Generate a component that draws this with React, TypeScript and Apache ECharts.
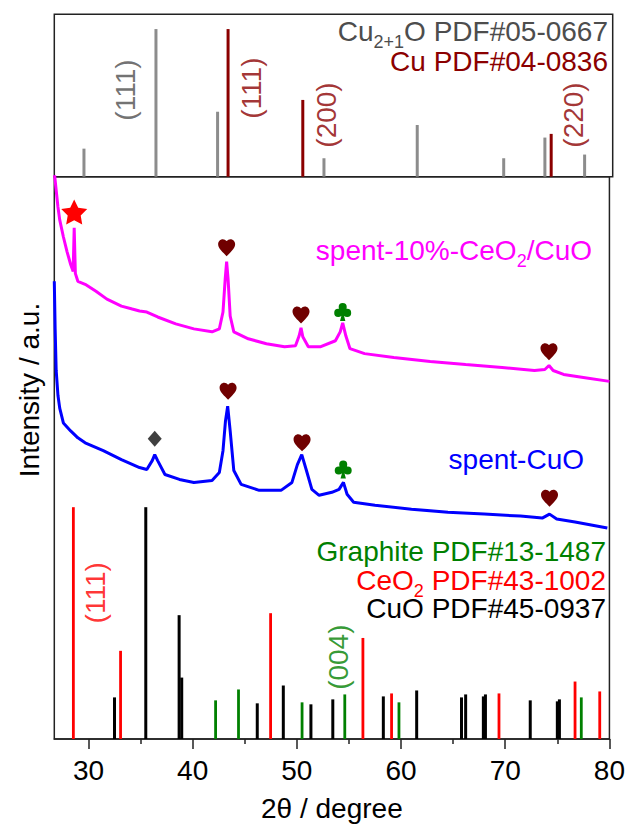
import React, { useEffect, useRef } from "react";
import * as echarts from "echarts";

// ---------- axis ----------
const X_MIN = 26.72;
const X_MAX = 80;
const MAJOR_TICKS = [30, 40, 50, 60, 70, 80];
const MINOR_TICKS = [35, 45, 55, 65, 75];

// ---------- top panel reference patterns ----------
const cu2oTheta = [29.55, 36.42, 42.3, 52.45, 61.35, 69.6, 73.53, 77.32];
const cu2oInt = [19, 100, 44, 12.5, 35, 12.5, 26.5, 15];
const cuTheta = [43.3, 50.43, 74.13];
const cuInt = [100, 52, 29];

// ---------- bottom reference patterns ----------
const ceo2Theta = [28.55, 33.08, 47.48, 56.34, 59.09, 69.4, 76.7, 79.07];
const ceo2Int = [234, 89, 127, 102, 46, 46, 58, 48];
const cuoTheta = [32.5, 35.5, 38.7, 38.95, 46.2, 48.7, 51.35, 53.45, 58.3, 61.5, 65.8, 66.2, 67.9, 68.1, 72.4, 75.0, 75.2];
const cuoInt = [42, 234, 125, 62, 36, 54, 35, 40, 43, 49, 42, 45, 43, 45, 39, 38, 40];
const graphiteTheta = [42.2, 44.4, 50.5, 54.6, 59.8, 77.3];
const graphiteInt = [39, 50, 37, 45, 37, 42];

// ---------- measured patterns ----------
const spent10Theta = [26.72, 26.9, 27.07, 27.24, 27.59, 27.94, 28.29, 28.53, 28.63, 28.74, 28.98, 29.68, 30.72, 31.77, 33.16, 34.2, 34.9, 35.6, 36.64, 38.38, 40.12, 41.86, 42.56, 42.91, 43.12, 43.26, 43.4, 43.6, 43.95, 45.34, 47.08, 48.82, 49.87, 50.22, 50.4, 50.57, 51.1, 52.3, 53.7, 54.16, 54.4, 54.7, 55.1, 56.5, 59.3, 62.8, 66.2, 69.7, 72.8, 73.8, 74.2, 74.6, 75.6, 77.5, 80];
const spent10Int = [572, 554, 537, 524, 507, 492, 479, 472, 516, 470, 462, 459, 452, 444, 437, 434, 432, 431, 426, 419, 414, 411, 414, 431, 464, 482, 464, 427, 411, 404, 399, 396, 397, 407, 415, 406, 396, 396, 402, 411, 420, 407, 394, 389, 385, 381, 378, 375, 372, 373, 377, 372, 368, 365, 361];

const spentCuOTheta = [26.72, 26.8, 26.9, 27.07, 27.24, 27.59, 28.29, 28.98, 29.68, 31.42, 33.16, 34.9, 35.6, 36.12, 36.36, 36.64, 37.34, 38.73, 40.12, 41.86, 42.56, 42.91, 43.15, 43.36, 43.6, 43.95, 44.65, 46.39, 48.48, 49.53, 50.05, 50.47, 50.92, 51.44, 52.14, 53.36, 54.05, 54.47, 54.82, 55.45, 57.5, 61.0, 64.5, 67.98, 71.46, 73.55, 74.25, 74.94, 76.7, 79.8];
const spentCuOInt = [462, 414, 372, 347, 334, 319, 311, 304, 299, 291, 282, 274, 272, 281, 287, 281, 267, 262, 259, 261, 269, 291, 321, 336, 311, 271, 257, 251, 251, 259, 277, 287, 271, 252, 246, 249, 252, 259, 247, 239, 236, 232, 229, 227, 225, 223, 227, 222, 219, 213];

// ---------- peak markers ----------
const heartTheta = [43.26, 50.4, 74.2, 43.4, 50.5, 74.25];
const heartInt = [496, 428, 391, 351, 299, 243];
const clubTheta = [54.4, 54.45];
const clubInt = [431, 272];
const diamondTheta = [36.36];
const diamondInt = [303];
const starTheta = [28.63];
const starInt = [532];

// ---------- hkl labels ----------
const cu2oHklTheta = [33.53];
const cu2oHklPos = [58.7];
const cu2oHklText = ["(111)"];
const cuHklTheta = [45.52, 52.72, 76.29];
const cuHklPos = [60, 41.8, 41.8];
const cuHklText = ["(111)", "(200)", "(220)"];
const ceo2HklTheta = [30.67];
const ceo2HklPos = [147.6];
const ceo2HklText = ["(111)"];
const graphiteHklTheta = [53.98];
const graphiteHklPos = [82.6];
const graphiteHklText = ["(004)"];

const FONT = "'Liberation Sans', Arial, Helvetica, sans-serif";
const MAIN_SIZE = 28;
const SUB_SIZE = 18;

const HEART =
  "path://M12,21.35 L10.55,20.03 C5.4,15.36 2,12.28 2,8.5 C2,5.42 4.42,3 7.5,3 C9.24,3 10.91,3.81 12,5.09 C13.09,3.81 14.76,3 16.5,3 C19.58,3 22,5.42 22,8.5 C22,12.28 18.6,15.36 13.45,20.04 Z";
const CLUB =
  "path://M16.5,6.5 A4.5,4.5 0 1 1 7.5,6.5 A4.5,4.5 0 1 1 16.5,6.5 Z M11.5,13 A4.5,4.5 0 1 1 2.5,13 A4.5,4.5 0 1 1 11.5,13 Z M21.5,13 A4.5,4.5 0 1 1 12.5,13 A4.5,4.5 0 1 1 21.5,13 Z M10,9 L14,9 L14,14 L10,14 Z M12,11 L15,22 L9,22 Z";
const STAR =
  "path://M12,1 L15.09,7.26 L22,8.27 L17,13.14 L18.18,20.02 L12,16.77 L5.82,20.02 L7,13.14 L2,8.27 L8.91,7.26 Z";

const zip = (a: number[], b: number[]) => a.map((v, i) => [v, b[i]]);

let measureCtx: CanvasRenderingContext2D | null = null;
function measure(text: string, size: number) {
  if (!measureCtx) measureCtx = document.createElement("canvas").getContext("2d");
  if (!measureCtx) return text.length * size * 0.55;
  measureCtx.font = `${size}px ${FONT}`;
  return measureCtx.measureText(text).width;
}

type Part = { t: string; sub?: boolean };
function textLine(parts: Part[], right: number, cy: number, color: string) {
  const els: any[] = [];
  let x = right;
  for (let i = parts.length - 1; i >= 0; i--) {
    const p = parts[i];
    const size = p.sub ? SUB_SIZE : MAIN_SIZE;
    els.push({
      type: "text",
      x,
      y: p.sub ? cy + 11 : cy,
      silent: true,
      style: { text: p.t, align: "right", verticalAlign: "middle", fill: color, fontSize: size, fontFamily: FONT },
    });
    x -= measure(p.t, size);
  }
  return els;
}

function sticks(pos: number[], ints: number[], color: string, width: number, gi: number) {
  return {
    type: "custom",
    xAxisIndex: gi,
    yAxisIndex: gi,
    silent: true,
    data: zip(pos, ints),
    encode: { x: 0, y: 1 },
    renderItem: (_p: any, api: any) => {
      const x = api.value(0);
      const y = api.value(1);
      const a = api.coord([x, 0]);
      const b = api.coord([x, y]);
      return {
        type: "line",
        shape: { x1: a[0], y1: a[1], x2: b[0], y2: b[1] },
        style: { stroke: color, lineWidth: width, fill: null },
      };
    },
  };
}

function markers(t: number[], v: number[], symbol: string, size: number[], color: string) {
  return {
    type: "scatter",
    xAxisIndex: 1,
    yAxisIndex: 1,
    silent: true,
    symbol,
    symbolSize: size,
    itemStyle: { color, opacity: 1 },
    data: zip(t, v),
    z: 5,
  };
}

function hkl(t: number[], v: number[], texts: string[], color: string, gi: number) {
  return {
    type: "scatter",
    xAxisIndex: gi,
    yAxisIndex: gi,
    silent: true,
    symbolSize: 1,
    itemStyle: { color: "rgba(0,0,0,0)" },
    data: t.map((x, i) => ({ name: texts[i], value: [x, v[i]] })),
    label: {
      show: true,
      position: "inside",
      rotate: 90,
      formatter: "{b}",
      fontSize: MAIN_SIZE,
      fontFamily: FONT,
      color,
    },
    z: 6,
  };
}

export default function App() {
  const ref = useRef<HTMLDivElement>(null);
  useEffect(() => {
    if (!ref.current) return;
    const chart = echarts.init(ref.current, null, { renderer: "svg" });
    const border = "#222";
    const option: any = {
      animation: false,
      backgroundColor: "#fff",
      grid: [
        { left: 54.3, right: 15.3, top: 14.3, height: 162.4, show: true, borderColor: border, borderWidth: 1.5 },
        { left: 54.3, right: 15.3, top: 176.7, height: 567.6, show: true, borderColor: border, borderWidth: 1.5 },
      ],
      xAxis: [
        {
          gridIndex: 0, type: "value", min: X_MIN, max: X_MAX, position: "bottom",
          axisLine: { show: false }, axisTick: { show: false }, axisLabel: { show: false }, splitLine: { show: false },
        },
        {
          gridIndex: 1, type: "value", min: X_MIN, max: X_MAX, position: "bottom",
          axisLine: { show: true, onZero: false, lineStyle: { color: border, width: 1.5 } },
          axisTick: { show: true, length: 10, inside: false, lineStyle: { color: border, width: 1.5 }, customValues: MAJOR_TICKS },
          axisLabel: { show: true, customValues: MAJOR_TICKS, fontSize: MAIN_SIZE, margin: 17, color: "#000", fontFamily: FONT },
          splitLine: { show: false },
          name: "2θ / degree",
          nameLocation: "middle",
          nameGap: 55,
          nameTextStyle: { fontSize: MAIN_SIZE, color: "#000", fontFamily: FONT },
        },
        {
          gridIndex: 1, type: "value", min: X_MIN, max: X_MAX, position: "bottom",
          axisLine: { show: false, onZero: false },
          axisTick: { show: true, length: 5, inside: false, lineStyle: { color: border, width: 1.5 }, customValues: MINOR_TICKS },
          axisLabel: { show: false },
          splitLine: { show: false },
        },
      ],
      yAxis: [
        { gridIndex: 0, type: "value", min: 0, max: 110, show: false },
        { gridIndex: 1, type: "value", min: 0, max: 567.6, show: false },
      ],
      series: [
        sticks(cu2oTheta, cu2oInt, "#8c8c8c", 3, 0),
        sticks(cuTheta, cuInt, "#8b0000", 3, 0),
        sticks(cuoTheta, cuoInt, "#000000", 3, 1),
        sticks(graphiteTheta, graphiteInt, "#008000", 2.8, 1),
        sticks(ceo2Theta, ceo2Int, "#ff0000", 2.8, 1),
        {
          type: "line", xAxisIndex: 1, yAxisIndex: 1, silent: true, showSymbol: false,
          data: zip(spent10Theta, spent10Int),
          lineStyle: { color: "#ff00ff", width: 3 },
          itemStyle: { color: "#ff00ff" },
        },
        {
          type: "line", xAxisIndex: 1, yAxisIndex: 1, silent: true, showSymbol: false,
          data: zip(spentCuOTheta, spentCuOInt),
          lineStyle: { color: "#0000ff", width: 3 },
          itemStyle: { color: "#0000ff" },
        },
        markers(heartTheta, heartInt, HEART, [17, 17], "#700000"),
        markers(clubTheta, clubInt, CLUB, [17, 18], "#008000"),
        markers(diamondTheta, diamondInt, "diamond", [14, 16], "#404040"),
        markers(starTheta, starInt, STAR, [26, 25], "#ff0000"),
        hkl(cu2oHklTheta, cu2oHklPos, cu2oHklText, "#4d4d4d", 0),
        hkl(cuHklTheta, cuHklPos, cuHklText, "#8b0000", 0),
        hkl(ceo2HklTheta, ceo2HklPos, ceo2HklText, "#ff0000", 1),
        hkl(graphiteHklTheta, graphiteHklPos, graphiteHklText, "#008000", 1),
      ],
      graphic: [
        {
          type: "text", x: 29, y: 390, rotation: Math.PI / 2, silent: true,
          style: { text: "Intensity / a.u.", align: "center", verticalAlign: "middle", fill: "#000", fontSize: MAIN_SIZE, fontFamily: FONT },
        },
        ...textLine([{ t: "Cu" }, { t: "2+1", sub: true }, { t: "O PDF#05-0667" }], 608, 31, "#4d4d4d"),
        ...textLine([{ t: "Cu PDF#04-0836" }], 608, 61, "#8b0000"),
        ...textLine([{ t: "Graphite PDF#13-1487" }], 606, 551, "#008000"),
        ...textLine([{ t: "CeO" }, { t: "2", sub: true }, { t: " PDF#43-1002" }], 606, 580, "#ff0000"),
        ...textLine([{ t: "CuO PDF#45-0937" }], 606, 608, "#000000"),
        ...textLine([{ t: "spent-10%-CeO" }, { t: "2", sub: true }, { t: "/CuO" }], 592, 250, "#ff00ff"),
        ...textLine([{ t: "spent-CuO" }], 584, 459, "#0000ff"),
      ],
    };
    chart.setOption(option);
    return () => chart.dispose();
  }, []);
  return <div ref={ref} style={{ position: "absolute", left: 0, top: 0, width: 628, height: 827 }} />;
}
